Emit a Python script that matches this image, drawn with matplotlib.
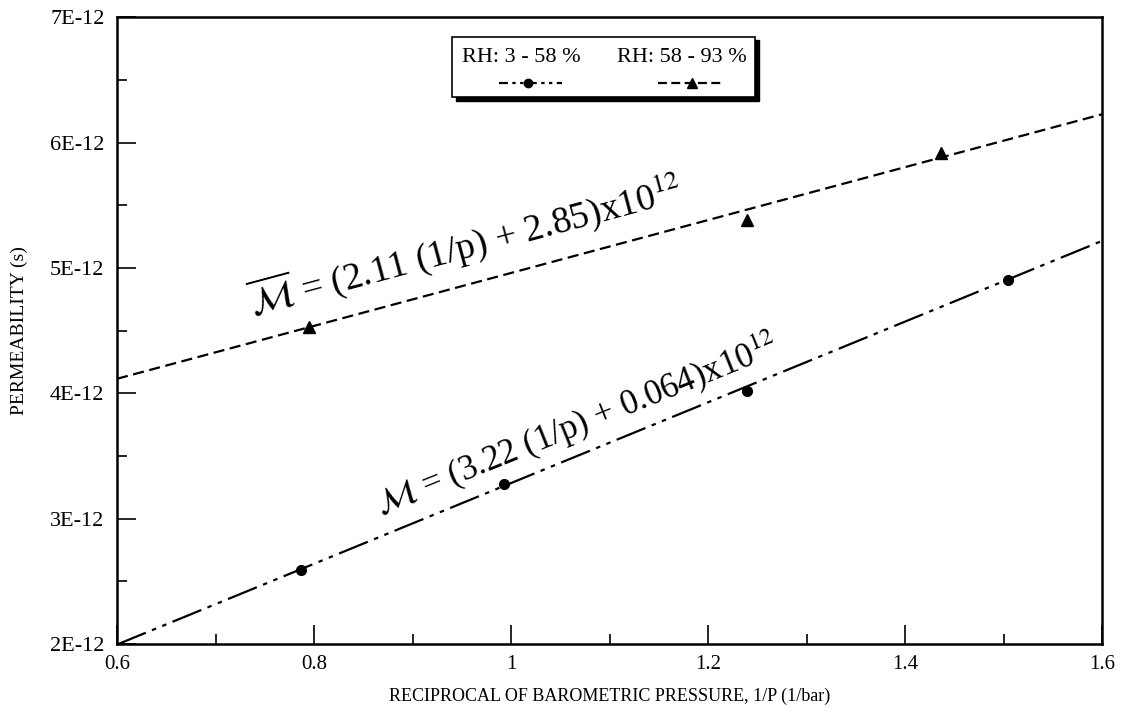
import numpy as np
import matplotlib
matplotlib.use("Agg")
import matplotlib.pyplot as plt
from matplotlib.patches import Rectangle
from matplotlib.ticker import MultipleLocator

plt.rcParams['font.family'] = ['Liberation Serif', 'DejaVu Serif']
plt.rcParams['mathtext.fontset'] = 'stix'

# measured permeability vs reciprocal pressure
low_rh_x = [0.787, 0.993, 1.24, 1.505]
low_rh_y = [2.59e-12, 3.28e-12, 4.02e-12, 4.90e-12]
high_rh_x = [0.795, 1.24, 1.437]
high_rh_y = [4.53e-12, 5.38e-12, 5.92e-12]

# linear fits (slope, intercept) in units of 1e-12
low_fit = [3.22, 0.064]
high_fit = [2.11, 2.85]

labels = ['RH: 3 - 58 %', 'RH: 58 - 93 %']
xticks = [0.6, 0.8, 1.0, 1.2, 1.4, 1.6]
xticklabels = ['0.6', '0.8', '1', '1.2', '1.4', '1.6']
yticks = [2e-12, 3e-12, 4e-12, 5e-12, 6e-12, 7e-12]
yticklabels = ['2E-12', '3E-12', '4E-12', '5E-12', '6E-12', '7E-12']

fig = plt.figure(figsize=(11.25, 7.18), dpi=100)
ax = fig.add_axes([0.104, 0.103, 0.8756, 0.873])

xs = np.array([0.6, 1.6])
low_dash = (0, (14, 3, 2, 3, 2, 3))
high_dash = (0, (5, 2.5))

ax.plot(xs, np.polyval(low_fit, xs) * 1e-12, color='black', lw=1.6, linestyle=low_dash)
ax.plot(xs, np.polyval(high_fit, xs) * 1e-12, color='black', lw=1.6, linestyle=high_dash)
ax.plot(low_rh_x, low_rh_y, 'o', color='black', ms=7)
ax.plot(high_rh_x, high_rh_y, '^', color='black', ms=8)

ax.set_xlim(0.6, 1.6)
ax.set_ylim(2e-12, 7e-12)
ax.set_xticks(xticks)
ax.set_xticklabels(xticklabels)
ax.set_yticks(yticks)
ax.set_yticklabels(yticklabels)
ax.xaxis.set_minor_locator(MultipleLocator(0.1))
ax.yaxis.set_minor_locator(MultipleLocator(0.5e-12))

ax.tick_params(which='both', direction='in', top=False, right=False, width=1.2)
ax.tick_params(which='major', length=14)
ax.tick_params(which='minor', length=7)
ax.tick_params(axis='x', labelsize=15, pad=8)
ax.tick_params(axis='y', labelsize=16, pad=9)
for side in ['top', 'right', 'bottom', 'left']:
    ax.spines[side].set_linewidth(1.8)

ax.set_xlabel('RECIPROCAL OF BAROMETRIC PRESSURE, 1/P (1/bar)', fontsize=13, labelpad=10)
ax.set_ylabel('PERMEABILITY (s)', fontsize=14, labelpad=16)

# fit equations written along the lines
ax.text(0.738, 4.62e-12, r'$\overline{\mathcal{M}}$ = (2.11 (1/p) + 2.85)x10$^{12}$',
        fontsize=27, rotation=15, rotation_mode='anchor', ha='left', va='baseline')
ax.text(0.868, 3.02e-12, r'$\mathcal{M}$ = (3.22 (1/p) + 0.064)x10$^{12}$',
        fontsize=25, rotation=22, rotation_mode='anchor', ha='left', va='baseline')

# legend box with drop shadow, handles under the text
tr = ax.transAxes
ax.add_patch(Rectangle((0.344, 0.866), 0.308, 0.097, transform=tr,
                       facecolor='black', edgecolor='black', zorder=5))
ax.add_patch(Rectangle((0.340, 0.872), 0.308, 0.097, transform=tr,
                       facecolor='white', edgecolor='black', lw=1.2, zorder=6))
ax.text(0.350, 0.935, labels[0], transform=tr, fontsize=16, va='center', zorder=7)
ax.text(0.508, 0.935, labels[1], transform=tr, fontsize=16, va='center', zorder=7)
ax.plot([0.388, 0.452], [0.895, 0.895], transform=tr, color='black', lw=1.6,
        linestyle=(0, (4, 2, 1.5, 2, 1.5, 2)), zorder=7)
ax.plot([0.417], [0.895], 'o', transform=tr, color='black', ms=6, zorder=8)
ax.plot([0.549, 0.615], [0.895, 0.895], transform=tr, color='black', lw=1.6,
        linestyle=(0, (4, 2)), zorder=7)
ax.plot([0.584], [0.895], '^', transform=tr, color='black', ms=7, zorder=8)

fig.savefig('out.png', dpi=100)
